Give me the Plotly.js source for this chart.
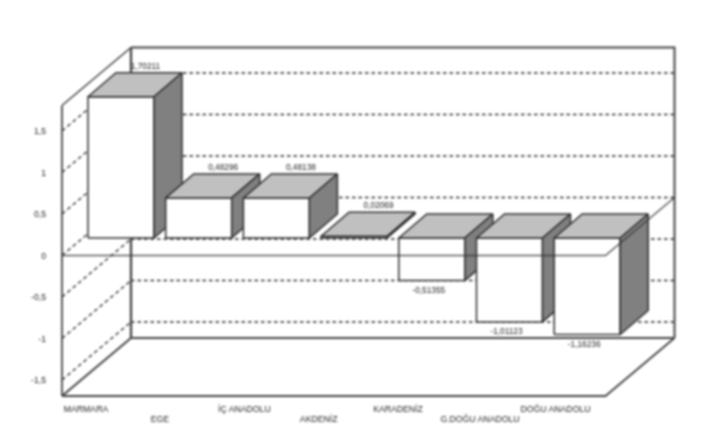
<!DOCTYPE html>
<html>
<head>
<meta charset="utf-8">
<script src="https://cdn.plot.ly/plotly-3.0.1.min.js"></script>
<style>
html,body{margin:0;padding:0;background:#fff;overflow:hidden}
#chart{width:704px;height:437px;filter:blur(0.8px)}
</style>
</head>
<body>
<div id="chart"></div>
<script>
var categories = ["MARMARA","EGE","İÇ ANADOLU","AKDENİZ","KARADENİZ","G.DOĞU ANADOLU","DOĞU ANADOLU"];
var values = [1.70211,0.48296,0.48138,0.02069,-0.51355,-1.01123,-1.16236];
var valueLabels = ["1,70211","0,48296","0,48138","0,02069","-0,51355","-1,01123","-1,16236"];
var tickValues = [-1.5,-1,-0.5,0,0.5,1,1.5];
var tickLabels = ["-1,5","-1","-0,5","0","0,5","1","1,5"];
var categoryNudgePx = [1,-2.7,4,0.6,2.2,6.5,4.3];

var W = 704, H = 437;
var pxPerCat = 77.7, pxPerUnit = 83, firstCentre = 121, zeroPx = 255.5;
function X(px){ return (px - firstCentre) / pxPerCat; }
function Y(py){ return (zeroPx - py) / pxPerUnit; }
function dX(px){ return px / pxPerCat; }
function dY(px){ return px / pxPerUnit; }

var ink = "#444444";
var traces = [];
function line(xs, ys, width, dash, color){
  traces.push({type:"scatter",mode:"lines",x:xs,y:ys,hoverinfo:"skip",showlegend:false,cliponaxis:false,
    line:{color:color||ink,width:width,dash:dash||"solid"}});
}
function poly(xs, ys, fill){
  traces.push({type:"scatter",mode:"lines",x:xs.concat(xs[0]),y:ys.concat(ys[0]),fill:"toself",fillcolor:fill,
    hoverinfo:"skip",showlegend:false,line:{color:"#303030",width:1.5}});
}

// frame geometry in the chart's own units
var wallDx = dX(69), wallDy = dY(58);
var frontL = X(62), frontR = X(605.5);
var topV = Y(105.5), floorV = Y(396);

// gridlines on the back and left walls
tickValues.forEach(function(v){
  line([frontL + wallDx, frontR + wallDx],[v + wallDy, v + wallDy],1.5,"3.5px,3px","#2a2a2a");
  line([frontL, frontL + wallDx],[v, v + wallDy],1.5,"4px,3px","#444444");
});

// walls and floor
line([frontL + wallDx, frontL + wallDx],[floorV + wallDy, topV + wallDy],2.3,null);
line([frontL + wallDx, frontR + wallDx, frontR + wallDx],[topV + wallDy, topV + wallDy, floorV + wallDy],2,null);
line([frontL + wallDx, frontR + wallDx],[floorV + wallDy, floorV + wallDy],1.8,null);
line([frontL, frontL + wallDx],[topV, topV + wallDy],1.6,null);
line([frontL, frontL],[topV, floorV],1.8,null);
line([frontL, frontL + wallDx],[floorV, floorV + wallDy],2,null);
line([frontL, frontR, frontR + wallDx],[floorV, floorV, floorV + wallDy],1.8,null);

// bars
var halfW = dX(33), depthX = dX(28), depthY = dY(24), baseV = Y(238);
values.forEach(function(v, i){
  var l = i - halfW, r = i + halfW;
  var top = baseV + Math.max(v, 0), bottom = baseV + Math.min(v, 0);
  poly([l, r, r, l],[bottom, bottom, top, top],"#ffffff");
  poly([l, l + depthX, r + depthX, r],[top, top + depthY, top + depthY, top],"#c0c0c0");
  poly([r, r + depthX, r + depthX, r],[bottom, bottom + depthY, top + depthY, top],"#808080");
});

// value labels
var textFamily = "Liberation Sans, Arial, sans-serif";
var labelFont = {family:textFamily,size:8.3,color:"#222222"};
traces.push({type:"scatter",mode:"text",hoverinfo:"skip",showlegend:false,cliponaxis:false,
  x:values.map(function(v,i){ return v >= 0 ? i + dX(24.5) : i - dX(3); }),
  y:values.map(function(v){ return v >= 0 ? baseV + v + depthY + dY(6) : baseV + v - dY(10.5); }),
  text:valueLabels,textposition:"middle center",textfont:labelFont});

// category labels, staggered on two rows
var catOffset = dX(-36), rowA = Y(409.5), rowB = Y(419.5);
traces.push({type:"scatter",mode:"text",hoverinfo:"skip",showlegend:false,cliponaxis:false,
  x:categories.map(function(c,i){ return i + catOffset + dX(categoryNudgePx[i]); }),
  y:categories.map(function(c,i){ return i % 2 ? rowB : rowA; }),
  text:categories,textposition:"middle center",
  textfont:{family:textFamily,size:8.7,color:"#222222"}});

var layout = {
  width:W,height:H,margin:{l:0,r:0,t:0,b:0},paper_bgcolor:"#fff",plot_bgcolor:"#fff",showlegend:false,
  xaxis:{visible:false,range:[X(0),X(W)],fixedrange:true},
  yaxis:{range:[Y(H),Y(0)],anchor:"free",position:46/W,tickmode:"array",tickvals:tickValues,ticktext:tickLabels,
    showgrid:false,zeroline:false,showline:false,ticks:"",fixedrange:true,
    tickfont:{family:textFamily,size:8.7,color:"#222222"}},
  // zero plane outline sits over the bars
  shapes:[{type:"path",xref:"x",yref:"y",layer:"above",
    path:"M"+frontL+","+0+" L"+frontR+","+0+" L"+(frontR+wallDx)+","+wallDy,
    line:{color:"rgba(50,50,50,0.8)",width:1.5}}]
};
Plotly.newPlot("chart",traces,layout,{displayModeBar:false,staticPlot:true});
</script>
</body>
</html>
